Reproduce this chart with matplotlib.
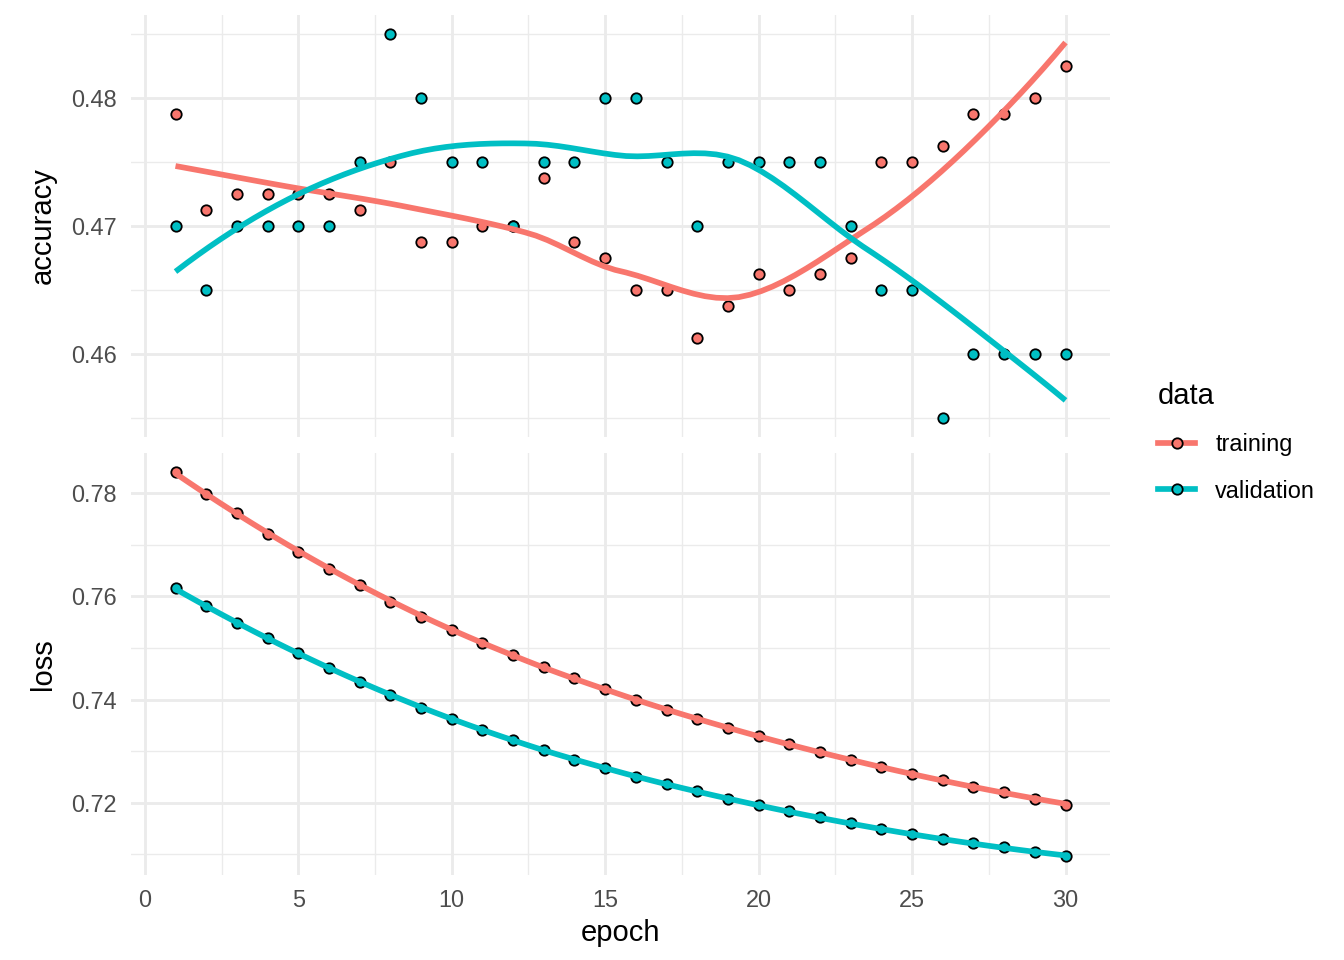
import numpy as np
import matplotlib
matplotlib.use("Agg")
import matplotlib.pyplot as plt
from matplotlib.lines import Line2D
from matplotlib.ticker import MultipleLocator, FormatStrFormatter

plt.rcParams['font.family'] = ['Liberation Sans', 'DejaVu Sans']

epochs = list(range(1, 31))

acc_training = [0.47875, 0.47125, 0.4725, 0.4725, 0.4725, 0.4725, 0.47125, 0.475,
                0.46875, 0.46875, 0.47, 0.47, 0.47375, 0.46875, 0.4675, 0.465,
                0.465, 0.46125, 0.46375, 0.46625, 0.465, 0.46625, 0.4675, 0.475,
                0.475, 0.47625, 0.47875, 0.47875, 0.48, 0.4825]
acc_validation = [0.47, 0.465, 0.47, 0.47, 0.47, 0.47, 0.475, 0.485, 0.48, 0.475,
                  0.475, 0.47, 0.475, 0.475, 0.48, 0.48, 0.475, 0.47, 0.475, 0.475,
                  0.475, 0.475, 0.47, 0.465, 0.465, 0.455, 0.46, 0.46, 0.46, 0.46]
loss_training = [0.7841, 0.7798, 0.7761, 0.7722, 0.7686, 0.7654, 0.7622, 0.7590,
                 0.7561, 0.7534, 0.7510, 0.7486, 0.7463, 0.7441, 0.7420, 0.7400,
                 0.7380, 0.7363, 0.7345, 0.7330, 0.7313, 0.7298, 0.7283, 0.7270,
                 0.7256, 0.7245, 0.7231, 0.7220, 0.7208, 0.7196]
loss_validation = [0.7616, 0.7581, 0.7548, 0.7519, 0.7490, 0.7461, 0.7434, 0.7408,
                   0.7383, 0.7363, 0.7341, 0.7322, 0.7302, 0.7283, 0.7268, 0.7250,
                   0.7236, 0.7222, 0.7208, 0.7195, 0.7183, 0.7172, 0.7160, 0.7149,
                   0.7139, 0.7129, 0.7121, 0.7114, 0.7104, 0.7097]

series_names = ['training', 'validation']
colors = {'training': '#F8766D', 'validation': '#00BFC4'}
metrics = ['accuracy', 'loss']
data = {
    'accuracy': {'training': acc_training, 'validation': acc_validation},
    'loss': {'training': loss_training, 'validation': loss_validation},
}


def local_fit(x, y, x0, q):
    n = len(x)
    d = np.abs(x - x0)
    h = np.sort(d)[q - 1]
    u = np.clip(d / h, 0, 1)
    w = (1 - u ** 3) ** 3
    X = np.vstack([np.ones(n), x - x0, (x - x0) ** 2]).T
    sw = np.sqrt(w)
    beta = np.linalg.lstsq(X * sw[:, None], y * sw, rcond=None)[0]
    return beta[0], beta[1]


def kd_vertices(xs_sorted, fc):
    verts = []

    def split(lo, hi):  # inclusive indices
        if hi - lo + 1 <= fc:
            return
        m = (lo + hi) // 2
        v = (xs_sorted[m] + xs_sorted[m + 1]) / 2
        verts.append(v)
        split(lo, m)
        split(m + 1, hi)

    split(0, len(xs_sorted) - 1)
    return verts


def loess(x, y, xs, span=0.75, cell=0.2):
    """R-style loess (degree 2, surface='interpolate')."""
    x = np.asarray(x, float)
    y = np.asarray(y, float)
    n = len(x)
    q = int(np.floor(n * span))
    fc = int(np.floor(n * span * cell))
    r = x.max() - x.min()
    mu = 0.005 * r
    xs_sorted = np.sort(x)
    verts = sorted([x.min() - mu, x.max() + mu] + kd_vertices(xs_sorted, fc))
    verts = np.array(verts)
    vals, slopes = zip(*[local_fit(x, y, v, q) for v in verts])
    vals, slopes = np.array(vals), np.array(slopes)
    out = []
    for t in xs:
        i = np.searchsorted(verts, t) - 1
        i = min(max(i, 0), len(verts) - 2)
        a, b = verts[i], verts[i + 1]
        hh = b - a
        s = (t - a) / hh
        h00 = 2 * s ** 3 - 3 * s ** 2 + 1
        h10 = s ** 3 - 2 * s ** 2 + s
        h01 = -2 * s ** 3 + 3 * s ** 2
        h11 = s ** 3 - s ** 2
        out.append(h00 * vals[i] + h10 * hh * slopes[i] + h01 * vals[i + 1] + h11 * hh * slopes[i + 1])
    return np.array(out)


W, H = 1344, 960
fig = plt.figure(figsize=(W / 100, H / 100), dpi=100)

panel_left, panel_right = 131, 1110
panels = {'accuracy': (15, 437), 'loss': (453, 875)}

grid_col = '#EBEBEB'
xs = np.linspace(1, 30, 80)
axes = {}
for m in metrics:
    top, bot = panels[m]
    ax = fig.add_axes([panel_left / W, 1 - bot / H, (panel_right - panel_left) / W, (bot - top) / H])
    axes[m] = ax
    for s in series_names:
        ax.scatter(epochs, data[m][s], s=7.5 ** 2, facecolor=colors[s], edgecolor='black',
                   linewidth=1.3, zorder=3)
    smooths = {s: loess(epochs, data[m][s], xs) for s in series_names}
    for s in series_names:
        ax.plot(xs, smooths[s], color=colors[s], lw=4.1, solid_capstyle='butt', zorder=4)
    # limits with ggplot-like 5% expansion
    allv = np.concatenate([data[m]['training'], data[m]['validation']] + list(smooths.values()))
    lo, hi = allv.min(), allv.max()
    r = hi - lo
    ax.set_ylim(lo - 0.05 * r, hi + 0.05 * r)
    ax.set_xlim(1 - 0.05 * 29, 30 + 0.05 * 29)
    ax.xaxis.set_major_locator(MultipleLocator(5))
    ax.xaxis.set_minor_locator(MultipleLocator(2.5))
    if m == 'accuracy':
        ax.yaxis.set_major_locator(MultipleLocator(0.01))
        ax.yaxis.set_minor_locator(MultipleLocator(0.005))
    else:
        ax.yaxis.set_major_locator(MultipleLocator(0.02))
        ax.yaxis.set_minor_locator(MultipleLocator(0.01))
    ax.yaxis.set_major_formatter(FormatStrFormatter('%.2f'))
    ax.grid(True, which='major', color=grid_col, lw=2.05, zorder=0)
    ax.grid(True, which='minor', color=grid_col, lw=1.0, zorder=0)
    ax.set_axisbelow(True)
    for sp in ax.spines.values():
        sp.set_visible(False)
    ax.tick_params(which='both', length=0, labelsize=16.9, labelcolor='#4D4D4D', pad=10)
    ax.set_ylabel(m, fontsize=21, color='black', va='baseline')
    ax.yaxis.set_label_coords(-(panel_left - 51) / (panel_right - panel_left), 0.5)

axes['accuracy'].tick_params(axis='x', labelbottom=False)
axes['loss'].set_xlabel('epoch', fontsize=21, color='black', labelpad=5)

handles = [Line2D([0], [0], color=colors[s], lw=4.1, marker='o', markersize=7.5,
                  markerfacecolor=colors[s], markeredgecolor='black', markeredgewidth=1.3)
           for s in series_names]
leg = fig.legend(handles, series_names, title='data', loc='upper left',
                 bbox_to_anchor=(1146 / W, 1 - 370 / H), frameon=False,
                 fontsize=16.9, title_fontsize=21, handlelength=1.6,
                 handletextpad=0.85, labelspacing=1.0, borderpad=0,
                 alignment='left')

fig.savefig('out.png', dpi=100, facecolor='white')
